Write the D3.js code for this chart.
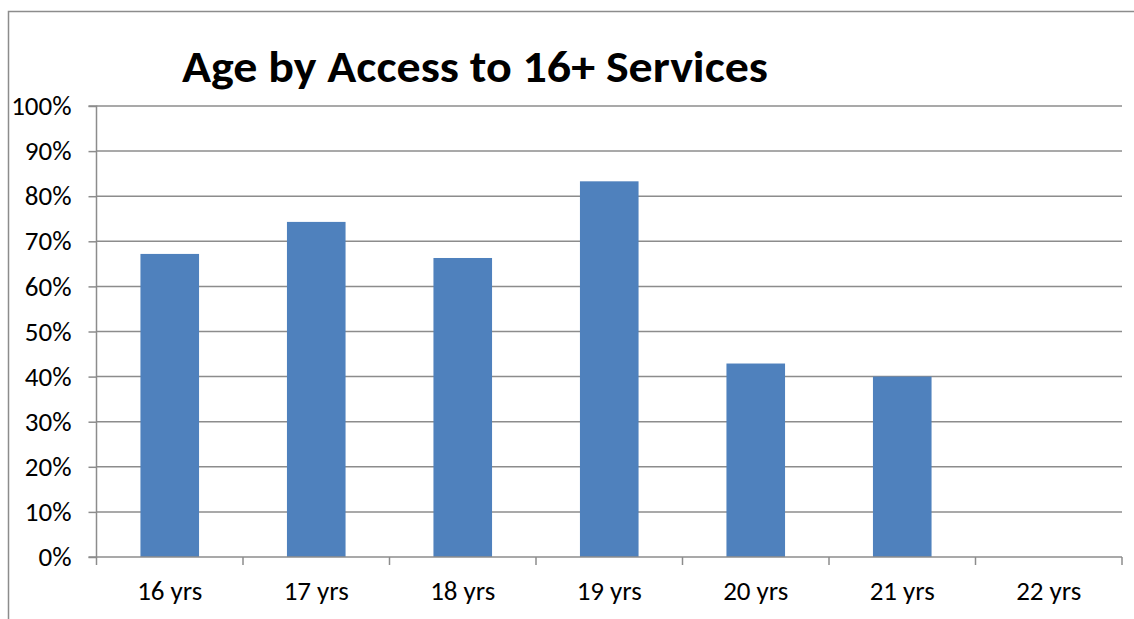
<!DOCTYPE html>
<html>
<head>
<meta charset="utf-8">
<script src="https://cdn.jsdelivr.net/npm/d3@7"></script>
<style>
  html, body { margin: 0; padding: 0; background: #fff; }
  svg { display: block; }
  text { font-family: Carlito, Calibri, "Open Sans", "Liberation Sans", sans-serif; }
</style>
</head>
<body>
<svg id="chart" width="1134" height="619"></svg>
<script>
const categories = ["16 yrs", "17 yrs", "18 yrs", "19 yrs", "20 yrs", "21 yrs", "22 yrs"];
const values = [0.672, 0.743, 0.663, 0.833, 0.429, 0.40, 0];
const yTicks = [0, 0.1, 0.2, 0.3, 0.4, 0.5, 0.6, 0.7, 0.8, 0.9, 1.0];
const title = "Age by Access to 16+ Services";

const svg = d3.select("#chart");
const W = 1134, H = 619;
const plot = { left: 96.5, right: 1122, top: 106, bottom: 557 };
const labelFont = "Carlito, Calibri, 'Open Sans', sans-serif";

// frame around the chart
svg.append("path")
  .attr("d", `M8.5,${H} V11.5 H${W}`)
  .attr("fill", "none")
  .attr("stroke", "#8c8c8c")
  .attr("stroke-width", 1.5);

const x = d3.scaleBand().domain(categories).range([plot.left, plot.right]).paddingInner(0.6).paddingOuter(0.3);
const xEdge = d3.scaleBand().domain(categories).range([plot.left, plot.right]);
const y = d3.scaleLinear().domain([0, 1]).range([plot.bottom, plot.top]);

// horizontal gridlines
svg.append("g").selectAll("line").data(yTicks.slice(1)).join("line")
  .attr("x1", plot.left).attr("x2", plot.right)
  .attr("y1", d => y(d)).attr("y2", d => y(d))
  .attr("stroke", "#8c8c8c").attr("stroke-width", 1.5);

// bars
svg.append("g").selectAll("rect").data(categories.map((c, i) => ({ c, v: values[i] }))).join("rect")
  .attr("x", d => x(d.c))
  .attr("width", x.bandwidth())
  .attr("y", d => y(d.v))
  .attr("height", d => y(0) - y(d.v))
  .attr("fill", "#4f81bd");

// y axis
const yAxis = d3.axisLeft(y).tickValues(yTicks).tickFormat(d3.format(".0%")).tickSize(8).tickPadding(17);
const gy = svg.append("g").attr("transform", `translate(${plot.left},0)`).call(yAxis);
gy.attr("font-size", null).attr("font-family", null);
gy.select(".domain").attr("stroke", "#8c8c8c").attr("stroke-width", 1.5).attr("d", `M-8,${plot.top}H0V${plot.bottom}H-8`);
gy.selectAll(".tick line").attr("stroke", "#8c8c8c").attr("stroke-width", 1.5);
gy.selectAll(".tick text").style("font-size", "27px").attr("fill", "#000")
  .style("font-family", labelFont);

// x axis
const xAxis = d3.axisBottom(xEdge).tickSize(0).tickPadding(24);
const gx = svg.append("g").attr("transform", `translate(0,${plot.bottom})`).call(xAxis);
gx.attr("font-size", null).attr("font-family", null);
gx.select(".domain").attr("stroke", "#8c8c8c").attr("stroke-width", 1.5).attr("d", `M${plot.left},0H${plot.right}`);
gx.selectAll(".tick text").style("font-size", "27px").attr("fill", "#000")
  .style("font-family", labelFont);
// category boundary ticks
gx.append("g").selectAll("line").data(categories.map(c => xEdge(c)).concat([plot.right])).join("line")
  .attr("x1", d => d).attr("x2", d => d).attr("y1", 0).attr("y2", 8)
  .attr("stroke", "#8c8c8c").attr("stroke-width", 1.5);

// title
svg.append("text")
  .attr("x", 182).attr("y", 81.5)
  .style("font-size", "44px").attr("font-weight", "bold").attr("fill", "#000")
  .attr("textLength", 586).attr("lengthAdjust", "spacingAndGlyphs")
  .text(title);
</script>
</body>
</html>
